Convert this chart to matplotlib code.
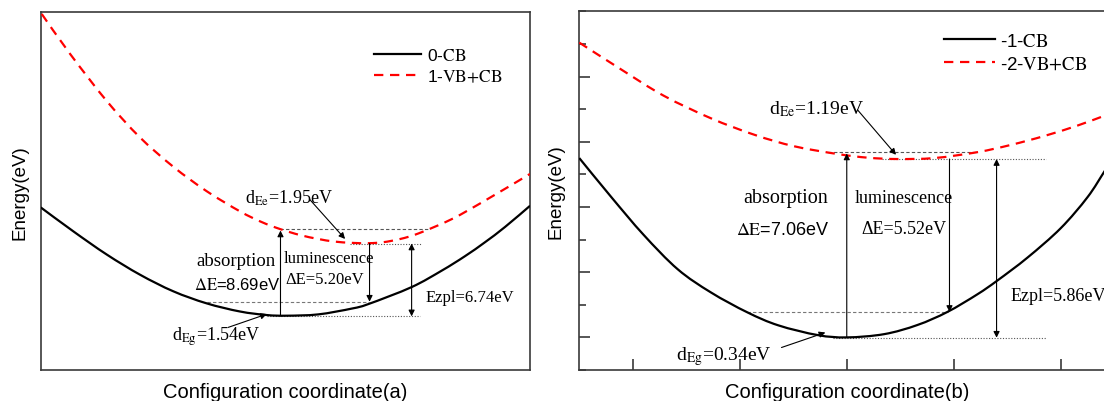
import matplotlib
matplotlib.use("Agg")
import numpy as np
import matplotlib.pyplot as plt
from matplotlib.lines import Line2D
from matplotlib.path import Path
from matplotlib.patches import PathPatch
from matplotlib.ticker import MultipleLocator, NullFormatter

plt.rcParams["mathtext.fontset"] = "stix"
SANS = ["Liberation Sans", "DejaVu Sans"]
SERIF = ["Liberation Serif", "DejaVu Serif"]

# ---- panel (a): arbitrary units ----
a_cb_x = [0.0, 0.67, 1.35, 2.03, 2.71, 3.39, 4.07, 4.62, 5.03, 5.67, 6.36, 6.70,
          7.58, 8.20, 8.67, 9.08, 9.49, 10.0]
a_cb_y = [5.00, 4.26, 3.55, 2.93, 2.42, 2.05, 1.80, 1.69, 1.67, 1.71, 1.89, 2.03,
          2.55, 3.06, 3.50, 3.93, 4.40, 5.05]
a_vb_x = [0.02, 0.60, 1.35, 2.03, 2.71, 3.39, 4.07, 4.50, 4.90, 5.30, 5.67, 6.00,
          6.36, 6.70, 7.00, 7.35, 7.72, 8.40, 9.08, 10.0]
a_vb_y = [10.95, 9.72, 8.27, 7.15, 6.25, 5.50, 4.88, 4.56, 4.33, 4.15, 4.03, 3.95,
          3.91, 3.90, 3.93, 4.03, 4.20, 4.64, 5.21, 6.03]
a_labels = ["0-$\\mathrm{CB}$", "1-$\\mathrm{VB{+}CB}$"]
# levels: (energy, x start, x end)
a_abs_top = (4.33, 4.90, 7.94)
a_vb_min = (3.89, 6.33, 7.78)
a_lum_end = (2.10, 3.40, 6.70)
a_cb_min = (1.65, 4.62, 7.76)
a_abs_x, a_lum_x, a_zpl_x = 4.90, 6.72, 7.58
a_texts = ["d$_{\\mathrm{Ee}}$=1.95eV", "$\\mathrm{\\Delta E}$=8.69eV",
           "\u0394E=5.20eV", "Ezpl=6.74eV", "d$_{\\mathrm{Eg}}$=1.54eV"]

# ---- panel (b) ----
b_cb_x = [-0.5, -0.2, 0.1, 0.42, 0.73, 1.07, 1.36, 1.73, 2.0, 2.35, 2.66, 2.94,
          3.22, 3.41, 3.69, 4.00, 4.25, 4.41, 4.5]
b_cb_y = [6.50, 5.30, 4.15, 3.09, 2.38, 1.77, 1.37, 1.07, 1.00, 1.10, 1.38, 1.78,
          2.32, 2.75, 3.45, 4.35, 5.30, 6.10, 6.55]
b_vb_x = [-0.5, -0.11, 0.29, 0.73, 1.14, 1.51, 1.92, 2.2, 2.47, 2.82, 3.22, 3.53,
          3.85, 4.16, 4.41, 4.5]
b_vb_y = [10.04, 9.22, 8.41, 7.72, 7.21, 6.86, 6.62, 6.51, 6.47, 6.50, 6.68, 6.90,
          7.18, 7.50, 7.80, 7.90]
b_labels = ["-1-$\\mathrm{CB}$", "-2-$\\mathrm{VB{+}CB}$"]
b_abs_top = (6.68, 1.82, 3.22)
b_vb_min = (6.47, 2.33, 3.86)
b_lum_end = (1.78, 1.07, 2.95)
b_cb_min = (0.99, 1.87, 3.86)
b_abs_x, b_lum_x, b_zpl_x = 2.0, 2.96, 3.40
b_texts = ["d$_{\\mathrm{Ee}}$=1.19eV", "$\\mathrm{\\Delta E}$=7.06eV",
           "\u0394E=5.52eV", "Ezpl=5.86eV", "d$_{\\mathrm{Eg}}$=0.34eV"]


def spline_line(ax, xs, ys, **kw):
    # connect the read points with a smooth (Catmull-Rom) path, like Origin's spline line
    pts = np.column_stack([xs, ys])
    verts = [pts[0]]
    codes = [Path.MOVETO]
    n = len(pts)
    for i in range(n - 1):
        p0 = pts[max(i - 1, 0)]
        p1 = pts[i]
        p2 = pts[i + 1]
        p3 = pts[min(i + 2, n - 1)]
        verts += [p1 + (p2 - p0) / 6.0, p2 - (p3 - p1) / 6.0, p2]
        codes += [Path.CURVE4] * 3
    patch = PathPatch(Path(verts, codes), fill=False, **kw)
    ax.add_patch(patch)
    return patch


def arrow(ax, x0, y0, x1, y1, style="-|>"):
    ax.annotate("", xy=(x1, y1), xytext=(x0, y0),
                arrowprops=dict(arrowstyle=style, color="k", lw=0.8,
                                shrinkA=0, shrinkB=0, mutation_scale=9))


def draw_levels(ax, abs_top, vb_min, lum_end, cb_min, abs_x, lum_x, zpl_x):
    ax.hlines(abs_top[0], abs_top[1], abs_top[2], color="#555555", lw=0.8,
              linestyles=(0, (3, 2)))
    ax.hlines(lum_end[0], lum_end[1], lum_end[2], color="#777777", lw=0.8,
              linestyles=(0, (3, 2)))
    ax.hlines(vb_min[0], vb_min[1], vb_min[2], color="#555555", lw=0.8,
              linestyles=(0, (1, 1.5)))
    ax.hlines(cb_min[0], cb_min[1], cb_min[2], color="#555555", lw=0.8,
              linestyles=(0, (1, 1.5)))
    arrow(ax, abs_x, cb_min[0] + 0.02, abs_x, abs_top[0] - 0.04)
    arrow(ax, lum_x, vb_min[0], lum_x, lum_end[0])
    arrow(ax, zpl_x, cb_min[0], zpl_x, vb_min[0], style="<|-|>")


def draw_curves(ax, cb_x, cb_y, vb_x, vb_y, labels, legend_kw):
    cb_style = dict(color="k", lw=1.6)
    vb_style = dict(color="#ff0000", lw=1.6, linestyle=(0, (4.2, 3)))
    spline_line(ax, cb_x, cb_y, zorder=3, **cb_style)
    spline_line(ax, vb_x, vb_y, zorder=3, **vb_style)
    handles = [Line2D([], [], **cb_style), Line2D([], [], **vb_style)]
    ax.legend(handles, labels, loc="upper left", frameon=False, borderpad=0,
              borderaxespad=0, handletextpad=0.3, labelspacing=0.3, **legend_kw)


def style_axes(ax):
    for sp in ax.spines.values():
        sp.set_color("#3a3a3a")
        sp.set_linewidth(1.2)


fig = plt.figure(figsize=(11.04, 4.02), dpi=100)
ax1 = fig.add_axes([0.0369, 0.0771, 0.4432, 0.8898])
ax2 = fig.add_axes([0.5247, 0.0771, 0.4846, 0.8923])

# ----- (a) -----
ax1.set_xlim(0, 10)
ax1.set_ylim(0, 11)
ax1.set_xticks([])
ax1.set_yticks([])
style_axes(ax1)
draw_curves(ax1, a_cb_x, a_cb_y, a_vb_x, a_vb_y, a_labels,
            dict(bbox_to_anchor=(0.682, 0.903), handlelength=2.7,
                 prop=dict(family=SANS, size=12.5)))
draw_levels(ax1, a_abs_top, a_vb_min, a_lum_end, a_cb_min, a_abs_x, a_lum_x, a_zpl_x)
ax1.text(4.18, 5.14, a_texts[0], family=SERIF, fontsize=13, va="baseline")
arrow(ax1, 5.50, 5.24, 6.22, 4.03)
ax1.text(4.00, 3.36, "absorption", family=SERIF, fontsize=13.5, ha="center", va="center")
ax1.text(4.02, 2.64, a_texts[1], family=SANS, fontsize=12, ha="center", va="center")
ax1.text(4.97, 3.43, "luminescence", family=SERIF, fontsize=12, va="center")
ax1.text(4.99, 2.80, a_texts[2], family=SERIF, fontsize=12, va="center")
ax1.text(8.77, 2.24, a_texts[3], family=SERIF, fontsize=12, ha="center", va="center")
ax1.text(2.68, 0.95, a_texts[4], family=SERIF, fontsize=13, va="baseline")
arrow(ax1, 3.83, 1.31, 4.62, 1.72)
ax1.set_ylabel("Energy(eV)", family=SANS, fontsize=13.5)
ax1.yaxis.set_label_coords(-0.026, 0.5)
ax1.set_xlabel("Configuration coordinate(a)", family=SANS, fontsize=14.5)
ax1.xaxis.set_label_coords(0.5, -0.033)

# ----- (b) -----
ax2.set_xlim(-0.5, 4.5)
ax2.set_ylim(0, 11)
ax2.xaxis.set_major_locator(MultipleLocator(1))
ax2.yaxis.set_minor_locator(MultipleLocator(1))
ax2.set_yticks([1, 3, 5, 7, 9])
ax2.xaxis.set_major_formatter(NullFormatter())
ax2.yaxis.set_major_formatter(NullFormatter())
ax2.tick_params(which="both", direction="in", color="#3a3a3a", width=1.2,
                top=False, right=False)
ax2.tick_params(which="major", length=8)
ax2.tick_params(which="minor", length=5)
style_axes(ax2)
draw_curves(ax2, b_cb_x, b_cb_y, b_vb_x, b_vb_y, b_labels,
            dict(bbox_to_anchor=(0.682, 0.940), handlelength=2.7,
                 prop=dict(family=SANS, size=13.5)))
draw_levels(ax2, b_abs_top, b_vb_min, b_lum_end, b_cb_min, b_abs_x, b_lum_x, b_zpl_x)
ax2.text(1.27, 7.88, b_texts[0], family=SERIF, fontsize=14, va="baseline")
arrow(ax2, 2.10, 7.98, 2.46, 6.60)
ax2.text(1.43, 5.28, "absorption", family=SERIF, fontsize=14.5, ha="center", va="center")
ax2.text(1.40, 4.31, b_texts[1], family=SANS, fontsize=13, ha="center", va="center")
ax2.text(2.53, 5.28, "luminescence", family=SERIF, fontsize=13, ha="center", va="center")
ax2.text(2.53, 4.33, b_texts[2], family=SERIF, fontsize=13, ha="center", va="center")
ax2.text(3.53, 2.29, b_texts[3], family=SERIF, fontsize=13, va="center")
ax2.text(0.40, 0.34, b_texts[4], family=SERIF, fontsize=14, va="baseline")
arrow(ax2, 1.39, 0.69, 1.80, 1.15)
ax2.set_ylabel("Energy(eV)", family=SANS, fontsize=13.5)
ax2.yaxis.set_label_coords(-0.027, 0.5)
ax2.set_xlabel("Configuration coordinate(b)", family=SANS, fontsize=14.5)
ax2.xaxis.set_label_coords(0.5, -0.033)

fig.savefig("out.png", dpi=100)
